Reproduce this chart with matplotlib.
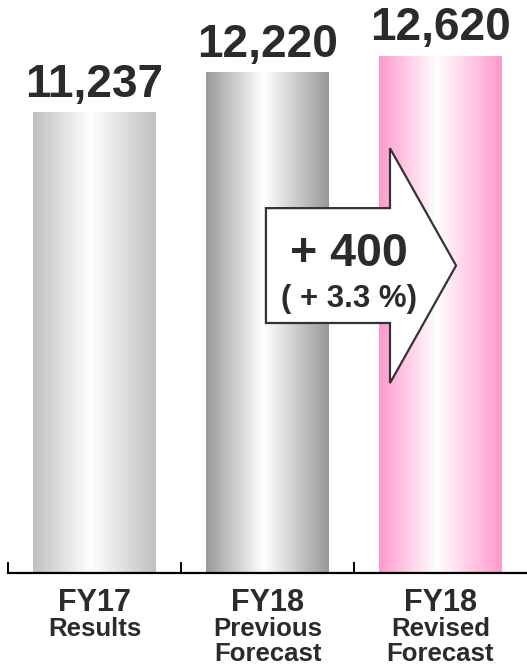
import numpy as np
import matplotlib
matplotlib.use('Agg')
import matplotlib.pyplot as plt
from matplotlib.colors import LinearSegmentedColormap
from matplotlib.patches import Polygon

# data
categories = ['FY17', 'FY18', 'FY18']
subtitles = ['Results', 'Previous\nForecast', 'Revised\nForecast']
values = [11237, 12220, 12620]
value_labels = ['11,237', '12,220', '12,620']
edge_colors = ['#c0c0c0', '#999999', '#ff99cc']
change_label = '+ 400'
change_pct = '( + 3.3 %)'

plt.rcParams['font.family'] = ['Liberation Sans', 'DejaVu Sans']
txt_color = '#2b2b2b'

fig = plt.figure(figsize=(5.27, 6.67), dpi=100)
ax = fig.add_axes([8 / 527, 94 / 667, 519 / 527, 573 / 667])

x = np.arange(len(values))
width = 0.71
bars = ax.bar(x, values, width=width, color='none', edgecolor='none')

# gradient fill for each bar
grad = np.linspace(0, 1, 256).reshape(1, -1)
for b, col in zip(bars, edge_colors):
    cmap = LinearSegmentedColormap.from_list('g', [(0, col), (0.47, 'white'), (1, col)])
    x0, y0 = b.get_x(), b.get_y()
    ax.imshow(grad, cmap=cmap, aspect='auto', interpolation='bicubic',
              extent=[x0, x0 + b.get_width(), y0, y0 + b.get_height()], zorder=1)

for xi, v, lab in zip(x, values, value_labels):
    ax.annotate(lab, (xi, v), xytext=(0, 11.5), textcoords='offset points',
                ha='center', va='baseline', fontsize=33, fontweight='bold', color=txt_color)

# category labels under the axis
for xi, cat, sub in zip(x, categories, subtitles):
    ax.annotate(cat, (xi, 0), xycoords=('data', 'axes fraction'), xytext=(0, -27.5),
                textcoords='offset points', ha='center', va='baseline',
                fontsize=22, fontweight='bold', color=txt_color)
    ax.annotate(sub, (xi, 0), xycoords=('data', 'axes fraction'), xytext=(0, -31.5),
                textcoords='offset points', ha='center', va='top', linespacing=1.06,
                fontsize=18.5, fontweight='bold', color=txt_color)

# big arrow from previous to revised forecast
ax1, ax2 = x[1], x[2]
sx0 = ax1 - 0.009
sx1 = ax2 - 0.292
tip = ax2 + 0.09
ys_top, ys_bot = values[1] * 0.729, values[1] * 0.4995
yh_top, yh_bot = values[2] * 0.8217, values[2] * 0.3674
y_tip = (ys_top + ys_bot) / 2
arrow = Polygon([(sx0, ys_bot), (sx0, ys_top), (sx1, ys_top), (sx1, yh_top),
                 (tip, y_tip), (sx1, yh_bot), (sx1, ys_bot)], closed=True,
                facecolor='white', edgecolor='#333333', linewidth=1.6, zorder=3,
                joinstyle='miter')
ax.add_patch(arrow)
cx = ax1 + 0.471
ax.text(cx, values[1] * 0.613, change_label, ha='center', va='baseline',
        fontsize=33.5, fontweight='bold', color=txt_color, zorder=4)
ax.text(cx, values[1] * 0.531, change_pct, ha='center', va='baseline',
        fontsize=22.5, fontweight='bold', color=txt_color, zorder=4)

ax.set_xlim(-0.5, 2.5)
ax.set_ylim(0, 13990)
for s in ['top', 'right', 'left']:
    ax.spines[s].set_visible(False)
ax.spines['bottom'].set_linewidth(1.6)
ax.set_yticks([])
ax.set_xticks([])
ax.set_xticks([-0.5, 0.5, 1.5], minor=True)
ax.tick_params(axis='x', which='minor', direction='in', length=8, width=1.4,
               labelbottom=False)
ax.patch.set_visible(False)

fig.savefig('out.png', dpi=100)
